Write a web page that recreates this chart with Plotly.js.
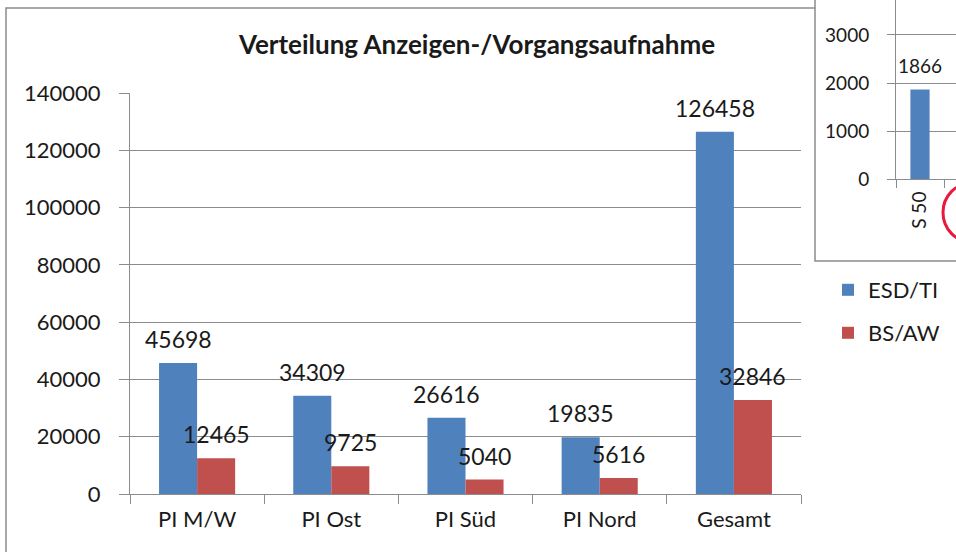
<!DOCTYPE html>
<html>
<head>
<meta charset="utf-8">
<script src="https://cdn.plot.ly/plotly-3.0.1.min.js"></script>
<style>html,body{margin:0;padding:0;background:#fff}#chart{width:956px;height:552px}</style>
</head>
<body>
<div id="chart"></div>
<script>
// Data
var categories = ["PI M/W", "PI Ost", "PI Süd", "PI Nord", "Gesamt"];
var esdTi = [45698, 34309, 26616, 19835, 126458];
var bsAw = [12465, 9725, 5040, 5616, 32846];
var insetCategories = ["S 50"];
var insetEsdTi = [1866];
var seriesNames = ["ESD/TI", "BS/AW"];
var chartTitle = "Verteilung Anzeigen-/Vorgangsaufnahme";

var W = 956, H = 552;
function px(x){ return x / W; }
function py(y){ return (H - y) / H; }

var BLUE = "#4F81BD", RED = "#C0504D", GRID = "#8c8c8c", TXT = "#1a1a1a";
var FONT = "Lato, 'Open Sans', sans-serif";

var traces = [
  {type: "bar", name: seriesNames[0], x: categories, y: esdTi, marker: {color: BLUE},
   xaxis: "x", yaxis: "y", legend: "legend", hoverinfo: "x+y"},
  {type: "bar", name: seriesNames[1], x: categories, y: bsAw, marker: {color: RED},
   xaxis: "x", yaxis: "y", legend: "legend2", hoverinfo: "x+y"},
  {type: "bar", name: seriesNames[0], x: insetCategories, y: insetEsdTi, marker: {color: BLUE},
   xaxis: "x2", yaxis: "y2", width: 0.4, showlegend: false, hoverinfo: "x+y"}
];

var annotations = [];
categories.forEach(function(c, i){
  annotations.push({xref: "x", yref: "y", x: c, y: esdTi[i], text: String(esdTi[i]),
    showarrow: false, xshift: -19, yshift: 24, yanchor: "middle", font: {family: FONT, size: 23, color: TXT}});
  annotations.push({xref: "x", yref: "y", x: c, y: bsAw[i], text: String(bsAw[i]),
    showarrow: false, xshift: 19, yshift: 24, yanchor: "middle", font: {family: FONT, size: 23, color: TXT}});
});
insetCategories.forEach(function(c, i){
  annotations.push({xref: "x2", yref: "y2", x: c, y: insetEsdTi[i], text: String(insetEsdTi[i]),
    showarrow: false, yshift: 24, yanchor: "middle", font: {family: FONT, size: 19, color: TXT}});
});

var layout = {
  width: W, height: H,
  margin: {l: 0, r: 0, t: 0, b: 0},
  paper_bgcolor: "#ffffff",
  plot_bgcolor: "rgba(0,0,0,0)",
  font: {family: FONT, color: TXT},
  title: {text: "<b>" + chartTitle + "</b>", x: px(477), xanchor: "center",
          y: py(45), yanchor: "middle", xref: "paper", yref: "paper",
          font: {family: FONT, size: 26, color: TXT}},
  barmode: "group",
  bargap: 0.433,
  bargroupgap: 0,
  xaxis: {domain: [px(130), px(801)], type: "category", tickson: "boundaries",
          ticks: "outside", ticklen: 9, tickcolor: GRID, showline: true, linecolor: GRID,
          showgrid: false, tickfont: {family: FONT, size: 22, color: TXT},
          ticklabelstandoff: 6, fixedrange: true, automargin: false},
  yaxis: {domain: [py(494), py(93)], range: [0, 140000], dtick: 20000, tickformat: "d",
          ticks: "outside", ticklen: 10, tickcolor: GRID, showline: true, linecolor: GRID,
          gridcolor: GRID, zeroline: false, tickfont: {family: FONT, size: 22, color: TXT},
          ticklabelstandoff: 14, fixedrange: true, automargin: false},
  xaxis2: {domain: [px(896), 1], anchor: "y2", type: "category", range: [-0.5, 0.75],
           tickson: "boundaries", ticks: "outside", ticklen: 8, tickcolor: GRID,
           showline: true, linecolor: GRID, showgrid: false, tickangle: -90,
           tickfont: {family: FONT, size: 19, color: TXT}, ticklabelstandoff: 4,
           fixedrange: true, automargin: false},
  yaxis2: {domain: [py(179), 1], anchor: "x2", range: [0, 3729], dtick: 1000, tickformat: "d",
           ticks: "outside", ticklen: 8, tickcolor: GRID, showline: true, linecolor: GRID,
           gridcolor: GRID, zeroline: false, tickfont: {family: FONT, size: 19, color: TXT},
           ticklabelstandoff: 14, fixedrange: true, automargin: false},
  legend: {x: px(828), xanchor: "left", y: py(290), yanchor: "middle",
           font: {family: FONT, size: 22, color: TXT}, bgcolor: "rgba(0,0,0,0)"},
  legend2: {x: px(828), xanchor: "left", y: py(333), yanchor: "middle",
            font: {family: FONT, size: 22, color: TXT}, bgcolor: "rgba(0,0,0,0)"},
  shapes: [
    {type: "rect", xref: "paper", yref: "paper", x0: px(6), x1: 1.1, y0: -0.1, y1: py(8),
     line: {color: GRID, width: 1.5}, fillcolor: "rgba(0,0,0,0)", layer: "below"},
    {type: "rect", xref: "paper", yref: "paper", x0: px(815), x1: 1.1, y0: py(261), y1: 1.1,
     line: {color: GRID, width: 1.5}, fillcolor: "#ffffff", layer: "below"},
    {type: "circle", xref: "paper", yref: "paper", x0: px(943), x1: px(1000), y0: py(242), y1: py(183),
     line: {color: "#e8193c", width: 3}, layer: "above"}
  ],
  annotations: annotations,
  showlegend: true
};

Plotly.newPlot("chart", traces, layout, {displayModeBar: false, staticPlot: true});
</script>
</body>
</html>
